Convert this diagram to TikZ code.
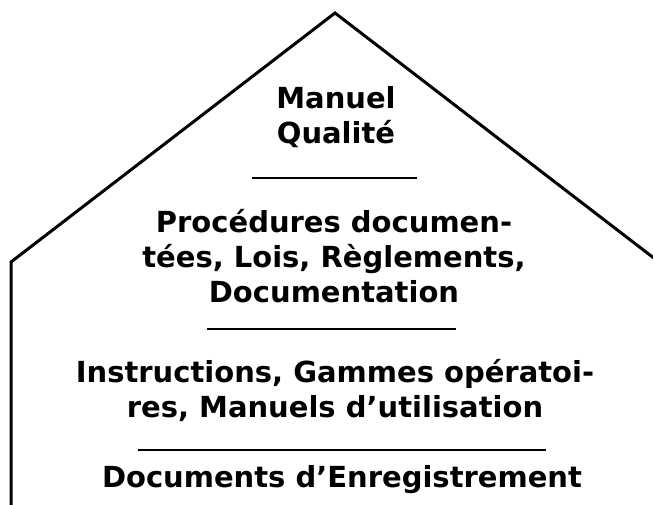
\documentclass[tikz,border=0pt]{standalone}
\usepackage{fontspec}
\setmainfont{DejaVu Sans}
\usetikzlibrary{positioning}

\begin{document}
\begin{tikzpicture}[x=1pt,y=1pt,
  level/.style={font=\bfseries\fontsize{29}{35}\selectfont,align=center,inner sep=0pt,anchor=base},
  sep/.style={line width=2.6pt}]
  \useasboundingbox (0,0) rectangle (653,504);
  \clip (0,0) rectangle (653,504);
  % House outline
  \coordinate (peak) at (335,491);
  \coordinate (eavel) at (11,242);
  \coordinate (eaver) at (659,242);
  \draw[line width=3pt,line join=miter] (11,-10) -- (eavel) -- (peak) -- (eaver) -- (659,-10);
  % Manuel Qualite
  \node (manuel) [level] at (336,360) {Manuel\\Qualité};
  \draw[sep] (252,326) -- (417,326);
  % Procedures
  \node (proc) [level] at (334,202) {Procédures documen-\\tées, Lois, Règlements,\\Documentation};
  \draw[sep,line width=2pt] (207,175) -- (456,175);
  % Instructions
  \node (instr) [level] at (335,87) {Instructions, Gammes opératoi-\\res, Manuels d’utilisation};
  \draw[sep] (138,54) -- (546,54);
  % Enregistrement
  \node (enreg) [level] at (342,17) {Documents d’Enregistrement};
\end{tikzpicture}
\end{document}
